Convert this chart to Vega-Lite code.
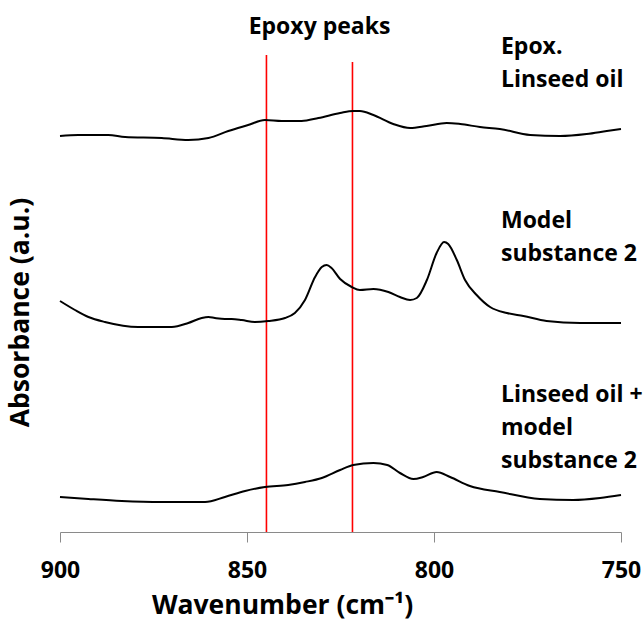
{
  "$schema": "https://vega.github.io/schema/vega-lite/v6.json",
  "width": 561,
  "height": 532,
  "autosize": {"type": "none"},
  "padding": {"left": 60, "top": 0, "right": 23, "bottom": 89},
  "background": "white",
  "config": {"view": {"stroke": null}, "font": "Open Sans"},
  "datasets": {
    "spectra": [
      {"wn": 900.0, "a": 3.96, "s": "Epox. Linseed oil"},
      {"wn": 895.1, "a": 3.97, "s": "Epox. Linseed oil"},
      {"wn": 887.1, "a": 3.97, "s": "Epox. Linseed oil"},
      {"wn": 882.6, "a": 3.95, "s": "Epox. Linseed oil"},
      {"wn": 872.8, "a": 3.94, "s": "Epox. Linseed oil"},
      {"wn": 865.7, "a": 3.92, "s": "Epox. Linseed oil"},
      {"wn": 860.3, "a": 3.94, "s": "Epox. Linseed oil"},
      {"wn": 855.0, "a": 4.01, "s": "Epox. Linseed oil"},
      {"wn": 849.7, "a": 4.07, "s": "Epox. Linseed oil"},
      {"wn": 845.2, "a": 4.12, "s": "Epox. Linseed oil"},
      {"wn": 840.7, "a": 4.11, "s": "Epox. Linseed oil"},
      {"wn": 835.4, "a": 4.11, "s": "Epox. Linseed oil"},
      {"wn": 830.9, "a": 4.14, "s": "Epox. Linseed oil"},
      {"wn": 825.1, "a": 4.19, "s": "Epox. Linseed oil"},
      {"wn": 821.6, "a": 4.21, "s": "Epox. Linseed oil"},
      {"wn": 819.8, "a": 4.21, "s": "Epox. Linseed oil"},
      {"wn": 816.2, "a": 4.17, "s": "Epox. Linseed oil"},
      {"wn": 810.9, "a": 4.08, "s": "Epox. Linseed oil"},
      {"wn": 806.4, "a": 4.04, "s": "Epox. Linseed oil"},
      {"wn": 802.0, "a": 4.06, "s": "Epox. Linseed oil"},
      {"wn": 796.6, "a": 4.09, "s": "Epox. Linseed oil"},
      {"wn": 793.0, "a": 4.08, "s": "Epox. Linseed oil"},
      {"wn": 787.7, "a": 4.05, "s": "Epox. Linseed oil"},
      {"wn": 782.4, "a": 4.03, "s": "Epox. Linseed oil"},
      {"wn": 774.3, "a": 3.97, "s": "Epox. Linseed oil"},
      {"wn": 766.3, "a": 3.96, "s": "Epox. Linseed oil"},
      {"wn": 759.2, "a": 3.98, "s": "Epox. Linseed oil"},
      {"wn": 753.8, "a": 4.01, "s": "Epox. Linseed oil"},
      {"wn": 750.0, "a": 4.03, "s": "Epox. Linseed oil"},

      {"wn": 900.0, "a": 2.31, "s": "Model substance 2"},
      {"wn": 896.0, "a": 2.22, "s": "Model substance 2"},
      {"wn": 892.4, "a": 2.15, "s": "Model substance 2"},
      {"wn": 888.0, "a": 2.10, "s": "Model substance 2"},
      {"wn": 879.1, "a": 2.05, "s": "Model substance 2"},
      {"wn": 870.1, "a": 2.05, "s": "Model substance 2"},
      {"wn": 865.7, "a": 2.09, "s": "Model substance 2"},
      {"wn": 862.1, "a": 2.14, "s": "Model substance 2"},
      {"wn": 860.3, "a": 2.15, "s": "Model substance 2"},
      {"wn": 858.6, "a": 2.14, "s": "Model substance 2"},
      {"wn": 855.9, "a": 2.13, "s": "Model substance 2"},
      {"wn": 854.1, "a": 2.13, "s": "Model substance 2"},
      {"wn": 851.4, "a": 2.12, "s": "Model substance 2"},
      {"wn": 847.9, "a": 2.10, "s": "Model substance 2"},
      {"wn": 844.3, "a": 2.11, "s": "Model substance 2"},
      {"wn": 839.8, "a": 2.14, "s": "Model substance 2"},
      {"wn": 837.2, "a": 2.19, "s": "Model substance 2"},
      {"wn": 834.5, "a": 2.32, "s": "Model substance 2"},
      {"wn": 831.8, "a": 2.55, "s": "Model substance 2"},
      {"wn": 830.0, "a": 2.65, "s": "Model substance 2"},
      {"wn": 828.7, "a": 2.67, "s": "Model substance 2"},
      {"wn": 827.4, "a": 2.64, "s": "Model substance 2"},
      {"wn": 825.1, "a": 2.53, "s": "Model substance 2"},
      {"wn": 822.0, "a": 2.45, "s": "Model substance 2"},
      {"wn": 819.8, "a": 2.42, "s": "Model substance 2"},
      {"wn": 816.2, "a": 2.43, "s": "Model substance 2"},
      {"wn": 812.2, "a": 2.40, "s": "Model substance 2"},
      {"wn": 809.1, "a": 2.35, "s": "Model substance 2"},
      {"wn": 806.4, "a": 2.32, "s": "Model substance 2"},
      {"wn": 804.6, "a": 2.34, "s": "Model substance 2"},
      {"wn": 801.9, "a": 2.52, "s": "Model substance 2"},
      {"wn": 799.3, "a": 2.79, "s": "Model substance 2"},
      {"wn": 797.3, "a": 2.90, "s": "Model substance 2"},
      {"wn": 796.2, "a": 2.88, "s": "Model substance 2"},
      {"wn": 793.9, "a": 2.72, "s": "Model substance 2"},
      {"wn": 791.7, "a": 2.52, "s": "Model substance 2"},
      {"wn": 788.6, "a": 2.37, "s": "Model substance 2"},
      {"wn": 785.0, "a": 2.25, "s": "Model substance 2"},
      {"wn": 780.5, "a": 2.19, "s": "Model substance 2"},
      {"wn": 776.1, "a": 2.16, "s": "Model substance 2"},
      {"wn": 769.9, "a": 2.11, "s": "Model substance 2"},
      {"wn": 760.9, "a": 2.09, "s": "Model substance 2"},
      {"wn": 750.0, "a": 2.09, "s": "Model substance 2"},

      {"wn": 900.0, "a": 0.35, "s": "Linseed oil + model substance 2"},
      {"wn": 892.4, "a": 0.33, "s": "Linseed oil + model substance 2"},
      {"wn": 883.5, "a": 0.31, "s": "Linseed oil + model substance 2"},
      {"wn": 872.8, "a": 0.30, "s": "Linseed oil + model substance 2"},
      {"wn": 861.2, "a": 0.30, "s": "Linseed oil + model substance 2"},
      {"wn": 855.9, "a": 0.35, "s": "Linseed oil + model substance 2"},
      {"wn": 850.5, "a": 0.41, "s": "Linseed oil + model substance 2"},
      {"wn": 845.2, "a": 0.45, "s": "Linseed oil + model substance 2"},
      {"wn": 839.0, "a": 0.47, "s": "Linseed oil + model substance 2"},
      {"wn": 834.5, "a": 0.50, "s": "Linseed oil + model substance 2"},
      {"wn": 830.0, "a": 0.54, "s": "Linseed oil + model substance 2"},
      {"wn": 825.1, "a": 0.62, "s": "Linseed oil + model substance 2"},
      {"wn": 821.6, "a": 0.67, "s": "Linseed oil + model substance 2"},
      {"wn": 816.2, "a": 0.69, "s": "Linseed oil + model substance 2"},
      {"wn": 812.5, "a": 0.67, "s": "Linseed oil + model substance 2"},
      {"wn": 809.1, "a": 0.59, "s": "Linseed oil + model substance 2"},
      {"wn": 805.5, "a": 0.53, "s": "Linseed oil + model substance 2"},
      {"wn": 802.9, "a": 0.55, "s": "Linseed oil + model substance 2"},
      {"wn": 799.3, "a": 0.60, "s": "Linseed oil + model substance 2"},
      {"wn": 795.7, "a": 0.55, "s": "Linseed oil + model substance 2"},
      {"wn": 790.4, "a": 0.46, "s": "Linseed oil + model substance 2"},
      {"wn": 782.4, "a": 0.40, "s": "Linseed oil + model substance 2"},
      {"wn": 771.7, "a": 0.33, "s": "Linseed oil + model substance 2"},
      {"wn": 762.8, "a": 0.32, "s": "Linseed oil + model substance 2"},
      {"wn": 755.6, "a": 0.34, "s": "Linseed oil + model substance 2"},
      {"wn": 750.0, "a": 0.37, "s": "Linseed oil + model substance 2"}
    ],
    "peaks": [
      {"wn": 844.8, "top": 4.77},
      {"wn": 821.8, "top": 4.70}
    ],
    "labels": [
      {"wn": 782.1, "a": 4.78, "label": "Epox.\nLinseed oil"},
      {"wn": 782.1, "a": 3.04, "label": "Model\nsubstance 2"},
      {"wn": 782.1, "a": 1.30, "label": "Linseed oil +\nmodel\nsubstance 2"}
    ],
    "title": [
      {"wn": 830.6, "a": 4.98, "label": "Epoxy peaks"}
    ]
  },
  "layer": [
    {
      "data": {"name": "peaks"},
      "mark": {"type": "rule", "color": "#ff0000", "strokeWidth": 1.6},
      "encoding": {
        "x": {"field": "wn", "type": "quantitative"},
        "y": {"field": "top", "type": "quantitative"},
        "y2": {"datum": 0}
      }
    },
    {
      "data": {"name": "spectra"},
      "mark": {"type": "line", "color": "#000000", "strokeWidth": 2, "interpolate": "monotone"},
      "encoding": {
        "x": {
          "field": "wn",
          "type": "quantitative",
          "scale": {"domain": [750, 900], "reverse": true, "nice": false, "zero": false},
          "axis": {
            "values": [900, 850, 800, 750],
            "grid": false,
            "domainColor": "#8a8a8a",
            "domainWidth": 1,
            "tickColor": "#8a8a8a",
            "tickSize": 10,
            "tickWidth": 1,
            "labelFont": "Open Sans",
            "labelFontSize": 23,
            "labelFontWeight": "bold",
            "labelColor": "#000000",
            "labelBaseline": "alphabetic",
            "labelPadding": 35,
            "labelFlush": false,
            "labelOverlap": false,
            "title": "Wavenumber (cm⁻¹)",
            "titleFont": "Open Sans",
            "titleFontSize": 26.5,
            "titleFontWeight": "bold",
            "titleColor": "#000000",
            "titleBaseline": "alphabetic",
            "titleAlign": "center",
            "titleX": 222,
            "titleY": 81
          }
        },
        "y": {
          "field": "a",
          "type": "quantitative",
          "scale": {"domain": [0, 5.32], "nice": false, "zero": false},
          "axis": {
            "domain": false,
            "ticks": false,
            "labels": false,
            "grid": false,
            "title": "Absorbance (a.u.)",
            "titleFont": "Open Sans",
            "titleFontSize": 26.5,
            "titleFontWeight": "bold",
            "titleColor": "#000000",
            "titleAngle": -90,
            "titleAlign": "center",
            "titleBaseline": "bottom",
            "titleX": -26,
            "titleY": 312
          }
        },
        "detail": {"field": "s"}
      }
    },
    {
      "data": {"name": "labels"},
      "mark": {"type": "text", "align": "left", "baseline": "alphabetic", "lineBreak": "\n", "lineHeight": 33, "font": "Open Sans", "fontSize": 23, "fontWeight": "bold", "color": "#000000"},
      "encoding": {
        "x": {"field": "wn", "type": "quantitative"},
        "y": {"field": "a", "type": "quantitative"},
        "text": {"field": "label"}
      }
    },
    {
      "data": {"name": "title"},
      "mark": {"type": "text", "align": "center", "baseline": "alphabetic", "font": "Open Sans", "fontSize": 23, "fontWeight": "bold", "color": "#000000"},
      "encoding": {
        "x": {"field": "wn", "type": "quantitative"},
        "y": {"field": "a", "type": "quantitative"},
        "text": {"field": "label"}
      }
    }
  ]
}
